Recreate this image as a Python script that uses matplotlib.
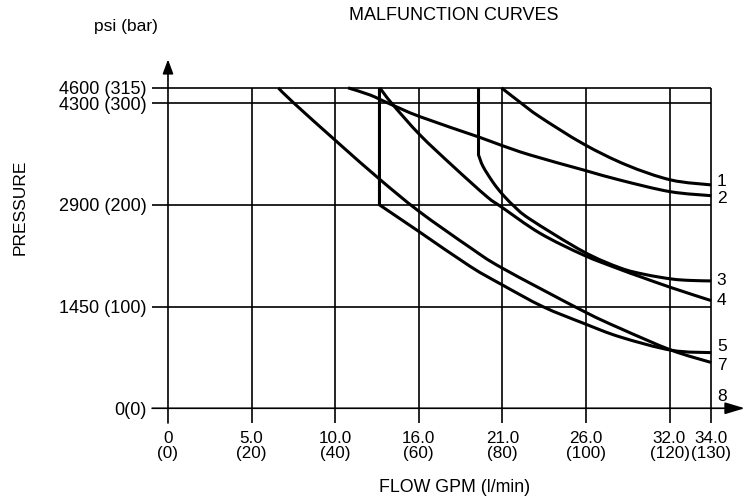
import matplotlib
matplotlib.use("Agg")
import matplotlib.pyplot as plt
from matplotlib.path import Path
from matplotlib.patches import PathPatch

plt.rcParams['font.family'] = ['Liberation Sans', 'DejaVu Sans']

# Axis ticks: flow in l/min (labelled GPM over l/min), pressure in bar (labelled psi over bar)
flow_ticks = [0, 20, 40, 60, 80, 100, 120, 130]
flow_labels = ['0\n(0)', '5.0\n(20)', '10.0\n(40)', '16.0\n(60)', '21.0\n(80)',
               '26.0\n(100)', '32.0\n(120)', '34.0\n(130)']
pressure_ticks = [0, 100, 200, 300, 315]
pressure_labels = ['0(0)', '1450 (100)', '2900 (200)', '4300 (300)', '4600 (315)']

# Malfunction curves: flow (l/min) and pressure (bar)
c1_flow = [79.8, 84.2, 88.9, 99.4, 109.7, 120.3, 130]
c1_pres = [315, 301, 286.7, 259.9, 239.2, 224.5, 219.6]

c2_flow = [43.1, 48.3, 52.7, 60.3, 74.3, 79.4, 86.6, 99.4, 108.2, 120.1, 130]
c2_pres = [315, 308.1, 300, 286.7, 266.8, 259.1, 249.1, 234.3, 224.3, 213.0, 209.0]

c3_flow = [74.3, 74.3, 75.4, 77.8, 79.9, 82.6, 86.6, 99.4, 108.2, 114.1, 120.5, 124.9, 130]
c3_pres = [315, 249.1, 237.6, 222, 211, 199.5, 186, 154.0, 138.0, 131.6, 127.1, 125.7, 125.2]

c4_flow = [50.7, 53.5, 60.3, 68.3, 76.3, 79.9, 89.0, 99.4, 108.2, 112.9, 120.5, 130]
c4_pres = [315, 300, 268.7, 237.6, 208.1, 197.6, 172.1, 150.7, 136.5, 129.5, 118.5, 105.8]

c5_flow = [50.6, 50.6, 60.1, 72.3, 79.9, 89.7, 99.4, 108.2, 120.5, 130]
c5_pres = [315, 200, 173.6, 139.5, 121.5, 99.9, 83.6, 70.1, 57.0, 54.7]

c7_flow = [26.4, 30.0, 40.7, 50.7, 60.1, 72.3, 79.9, 99.4, 108.2, 120.5, 130]
c7_pres = [315, 300.5, 261, 225, 193.5, 158, 138, 95.5, 78.5, 57, 45]

curve_names = ['1', '2', '3', '4', '5', '7', '8']
curve_flows = [c1_flow, c2_flow, c3_flow, c4_flow, c5_flow, c7_flow, None]
curve_pres = [c1_pres, c2_pres, c3_pres, c4_pres, c5_pres, c7_pres, None]
# index where a straight relief-valve drop ends and the smooth part begins
curve_corner = {'3': 1, '5': 1}
# vertical nudge (points) of each end label relative to its curve end
label_dy = {'1': 2.3, '2': -1.7, '3': 0, '4': 0, '5': 4.3, '7': -2.3, '8': 8.3}


def smooth_path(xs, ys, corner=0):
    """Straight run up to `corner`, then a Catmull-Rom spline through the rest."""
    verts = [(xs[0], ys[0])]
    codes = [Path.MOVETO]
    for i in range(1, corner + 1):
        verts.append((xs[i], ys[i]))
        codes.append(Path.LINETO)
    px = xs[corner:]
    py = ys[corner:]
    n = len(px)
    for i in range(n - 1):
        x0, y0 = (px[i - 1], py[i - 1]) if i > 0 else (px[i], py[i])
        x1, y1 = px[i], py[i]
        x2, y2 = px[i + 1], py[i + 1]
        x3, y3 = (px[i + 2], py[i + 2]) if i + 2 < n else (x2, y2)
        verts += [(x1 + (x2 - x0) / 6, y1 + (y2 - y0) / 6),
                  (x2 - (x3 - x1) / 6, y2 - (y3 - y1) / 6),
                  (x2, y2)]
        codes += [Path.CURVE4] * 3
    return Path(verts, codes)


x_lo, x_hi = -3.8, 138
y_lo, y_hi = -14.5, 345

fig = plt.figure(figsize=(7.46, 4.99), dpi=100)
ax = fig.add_axes([0.2039, 0.1523, 0.7944, 0.7327])
ax.set_xlim(x_lo, x_hi)
ax.set_ylim(y_lo, y_hi)
for s in ax.spines.values():
    s.set_visible(False)

ax.set_xticks(flow_ticks)
ax.set_xticklabels(flow_labels, fontsize=12.3, linespacing=1.0)
ax.set_yticks(pressure_ticks)
ax.set_yticklabels(pressure_labels, fontsize=13)
ax.tick_params(axis='x', length=0, pad=6)
ax.tick_params(axis='y', length=0, pad=4)

grid_lw = 1.2
xmax_data = flow_ticks[-1]
ymax_data = pressure_ticks[-1]

# horizontal reference lines
for v in pressure_ticks:
    if v == 0:
        continue
    ax.plot([x_lo, xmax_data], [v, v], color='black', lw=grid_lw, clip_on=False,
            solid_capstyle='butt')
# vertical reference lines
for x in flow_ticks:
    if x == 0:
        continue
    ax.plot([x, x], [y_lo, ymax_data], color='black', lw=grid_lw, clip_on=False,
            solid_capstyle='butt')

# axes with arrow heads
ax.annotate('', xy=(x_hi, 0), xytext=(x_lo, 0),
            arrowprops=dict(arrowstyle='-|>,head_length=1.2,head_width=0.36',
                            color='black', lw=grid_lw, shrinkA=0, shrinkB=0,
                            mutation_scale=10))
ax.annotate('', xy=(0, y_hi - 2), xytext=(0, y_lo),
            arrowprops=dict(arrowstyle='-|>,head_length=0.86,head_width=0.32',
                            color='black', lw=grid_lw, shrinkA=0, shrinkB=0,
                            mutation_scale=10))

# curves and their end labels
for name, xs, ys in zip(curve_names, curve_flows, curve_pres):
    if xs is not None:
        path = smooth_path(xs, ys, curve_corner.get(name, 0))
        ax.add_patch(PathPatch(path, fill=False, edgecolor='black', lw=2.2,
                               joinstyle='miter', capstyle='butt', clip_on=False))
        end_x, end_y = xs[-1], ys[-1]
    else:
        end_x, end_y = xmax_data, 0
    ax.annotate(name, xy=(end_x, end_y), xytext=(4, label_dy[name]),
                textcoords='offset points', ha='left', va='center', fontsize=12.5)

fig.text(454 / 746, 1 - 16 / 499, 'MALFUNCTION CURVES', ha='center', va='center',
         fontsize=13)
fig.text(126 / 746, 1 - 26 / 499, 'psi (bar)', ha='center', va='center', fontsize=12.5)
fig.text(20 / 746, 1 - 207 / 499, 'PRESSURE', ha='center', va='center',
         rotation=90, fontsize=12.5)
fig.text(455 / 746, 1 - 488 / 499, 'FLOW GPM (l/min)', ha='center', va='center',
         fontsize=12.8)

fig.savefig('out.png', dpi=100)
